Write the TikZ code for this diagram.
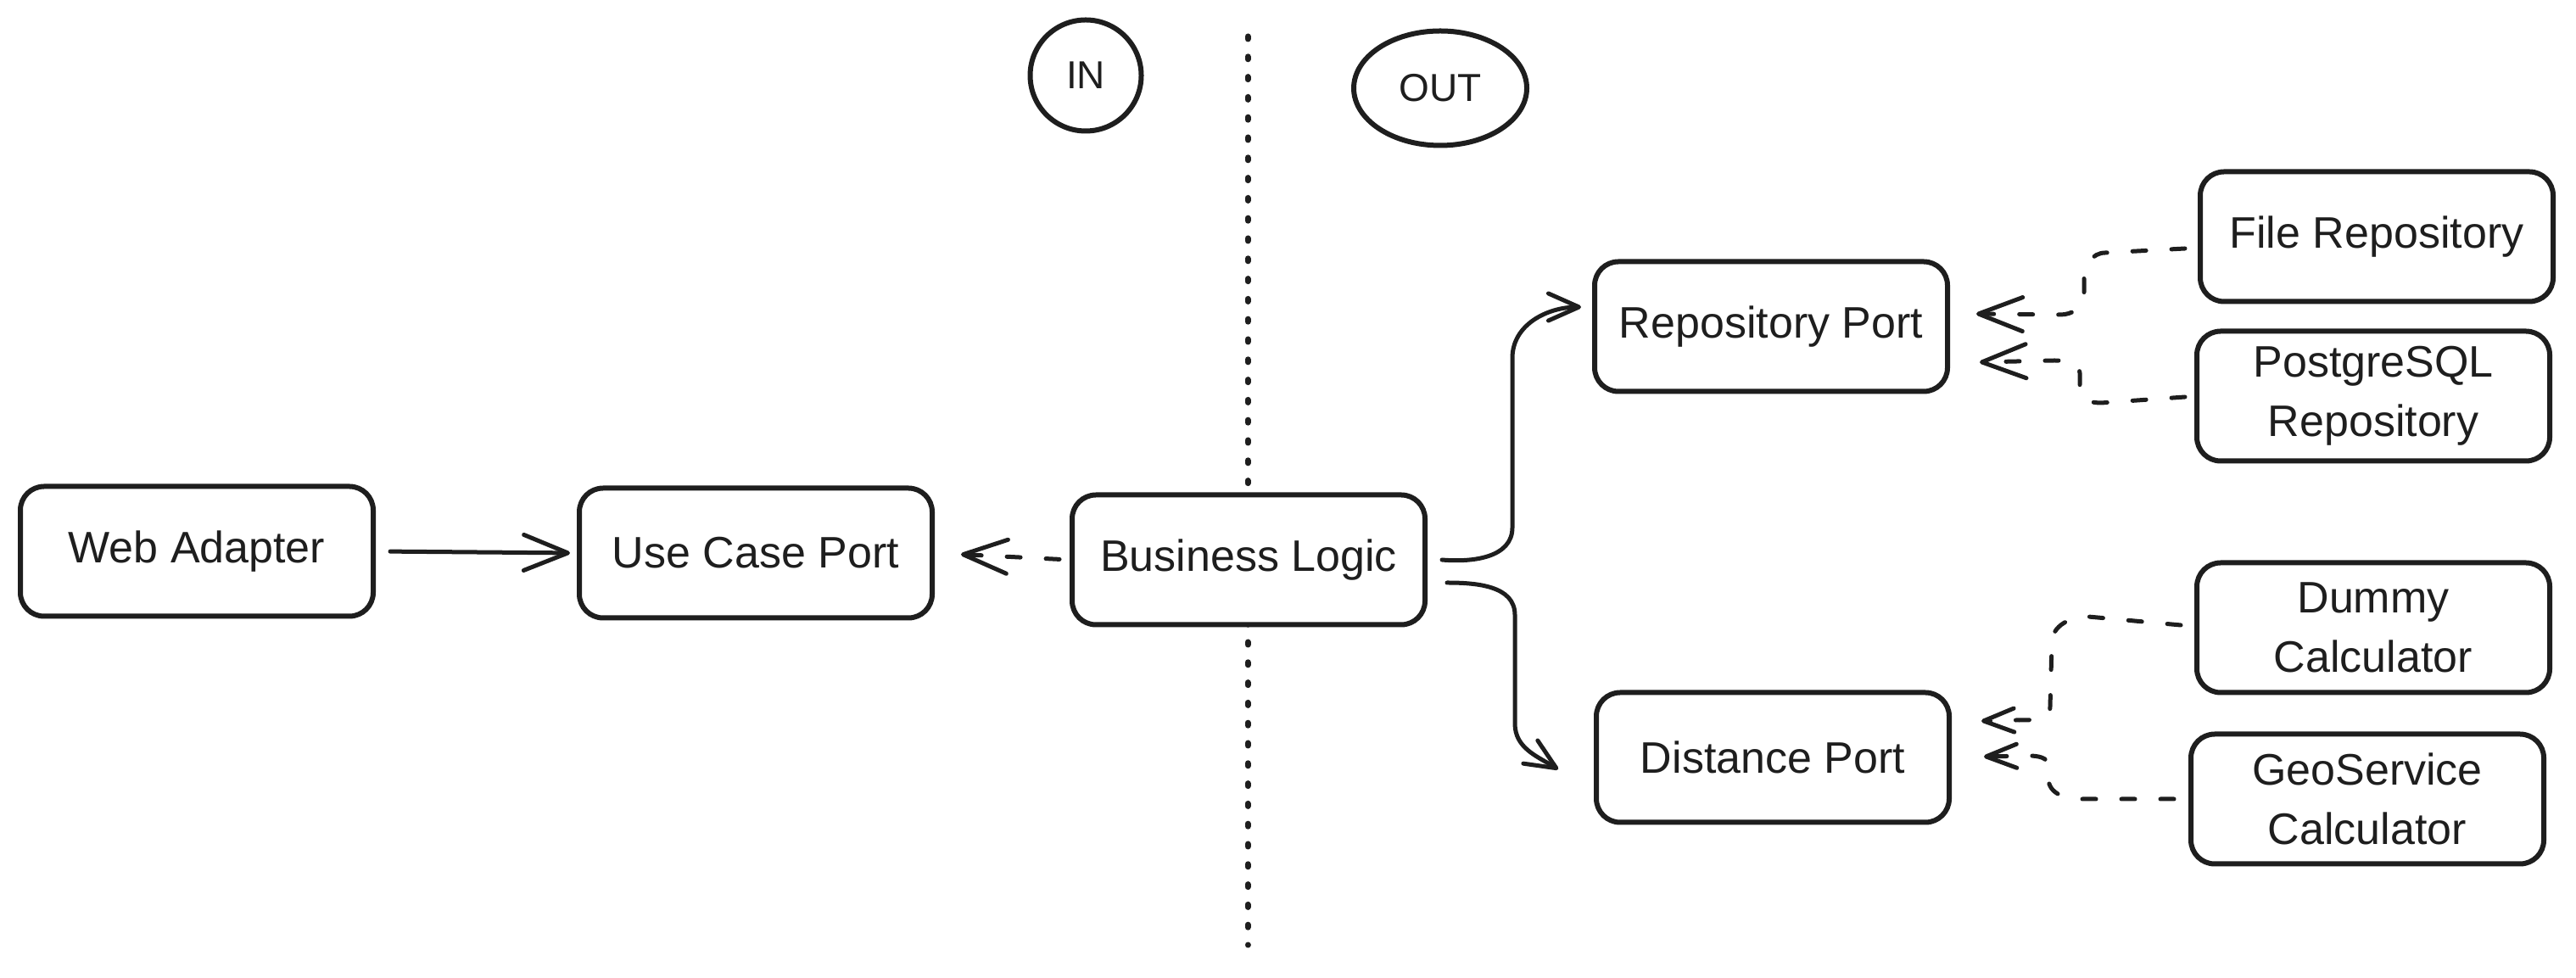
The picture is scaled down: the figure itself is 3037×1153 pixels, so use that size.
\documentclass[tikz,border=0pt]{standalone}
\usepackage{fontspec}
\setmainfont{Liberation Sans}
\usetikzlibrary{arrows.meta,shapes.geometric}
\definecolor{ink}{RGB}{30,30,30}
\begin{document}
\begin{tikzpicture}[x=1pt,y=1pt,
  box/.style={draw=ink, line width=6pt, rounded corners=28pt, fill=white,
    minimum width=416pt, minimum height=153pt, align=center, inner sep=0pt,
    font=\fontsize{52}{70}\selectfont, text=ink},
  tag/.style={draw=ink, line width=6pt, inner sep=0pt,
    font=\fontsize{46}{54}\selectfont, text=ink},
  conn/.style={draw=ink, line width=5pt, line cap=round, line join=round},
  solidarr/.style={conn, -{Straight Barb[length=52pt,width=42pt,round]}},
  bendarr/.style={conn, -{Straight Barb[length=36pt,width=32pt,round]}},
  dasharr/.style={conn, dash pattern=on 16pt off 30pt,
    -{Straight Barb[length=52pt,width=40pt,round]}},
  dasharrsmall/.style={conn, dash pattern=on 16pt off 30pt,
    -{Straight Barb[length=36pt,width=28pt,round]}},
  dotline/.style={draw=ink, line width=7pt, line cap=round,
    dash pattern=on 3pt off 20.8pt}
]
\fill[white] (0,0) rectangle (3037,1153);
\useasboundingbox (0,0) rectangle (3037,1153);

% divider
\coordinate (divtop) at (1471,1110);
\coordinate (divbot) at (1471,39);
\draw[dotline] (divtop) -- (divbot);

% nodes
\node[box] (wa)  at (232,503)  {Web Adapter};
\node[box] (ucp) at (891,501)  {Use Case Port};
\node[box] (bl)  at (1472,493) {Business Logic};
\node[box] (rp)  at (2088,768) {Repository Port};
\node[box] (dp)  at (2090,260) {Distance Port};
\node[box] (fr)  at (2802,874) {File Repository};
\node[box] (pg)  at (2798,686) {PostgreSQL\\Repository};
\node[box] (dc)  at (2798,413) {Dummy\\Calculator};
\node[box] (gs)  at (2791,211) {GeoService\\Calculator};
\node[tag, circle, minimum size=131pt] (in) at (1280,1064) {IN};
\node[tag, ellipse, minimum width=204pt, minimum height=135pt] (out) at (1698,1049) {OUT};

% connectors
\draw[solidarr, shorten <=17pt, shorten >=8pt] (wa.east) -- (ucp.west);
\draw[dasharr, shorten <=12pt, shorten >=31pt] (bl.west) -- (ucp.east);

\draw[bendarr] ([xshift=17pt]bl.east) to[out=-5,in=-90] ++(83,38)
  -- ++(0,200) to[out=90,in=180] ([xshift=-13pt,yshift=23pt]rp.west);
\draw[bendarr] ([xshift=23pt,yshift=-27pt]bl.east) to[out=0,in=90] ++(80,-38)
  -- ++(0,-128) to[out=-90,in=148] ([xshift=-42pt,yshift=-14pt]dp.west);

\draw[dasharr] ([xshift=-15pt,yshift=-14pt]fr.west) -- ++(-94,-5)
  to[out=180,in=90] ++(-25,-30) -- ++(0,-20)
  to[out=-90,in=0] ++(-28,-23) -- ([xshift=31pt,yshift=15pt]rp.east);
\draw[dasharr] ([xshift=-11pt,yshift=-1pt]pg.west) -- ++(-99,-7)
  to[out=180,in=-90] ++(-25,15) -- ++(0,20)
  to[out=90,in=0] ++(-30,15) -- ([xshift=35pt,yshift=-42pt]rp.east);

\draw[dasharrsmall] ([xshift=-16pt,yshift=3pt]dc.west) -- ++(-109,10)
  to[out=180,in=90] ++(-43,-31) -- ++(-2,-75)
  to[out=-90,in=0] ++(-40,-16) -- ([xshift=35pt,yshift=43pt]dp.east);
\draw[dasharrsmall] ([xshift=-17pt]gs.west) -- ++(-111,0)
  to[out=180,in=-90] ++(-37,24) -- ++(0,15)
  to[out=90,in=0] ++(-23,12) -- ([xshift=38pt,yshift=1pt]dp.east);
\end{tikzpicture}
\end{document}
